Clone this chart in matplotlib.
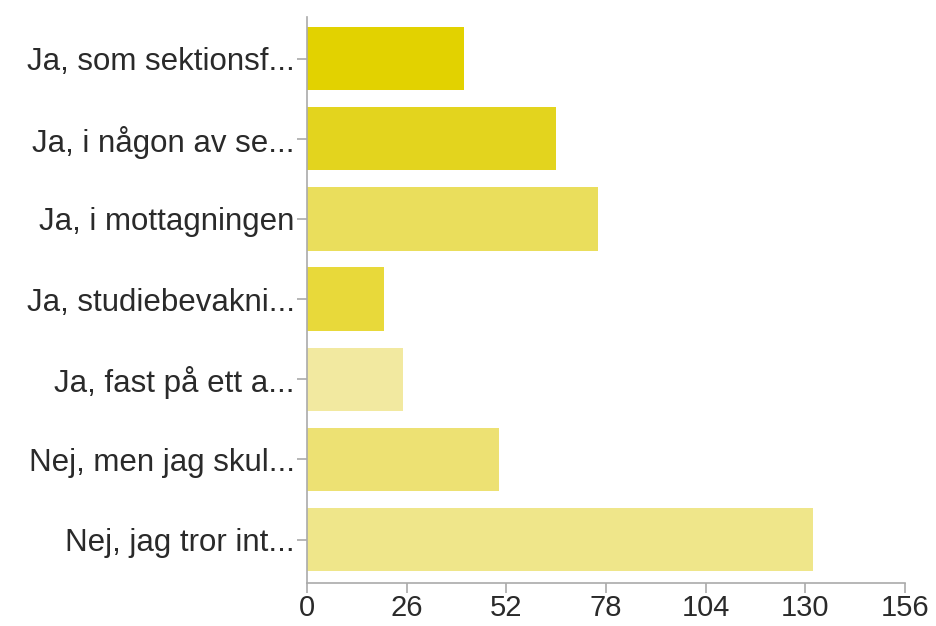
import matplotlib.pyplot as plt

plt.rcParams['font.family'] = ['Liberation Sans', 'DejaVu Sans']

labels = ["Ja, som sektionsf...", "Ja, i någon av se...", "Ja, i mottagningen",
          "Ja, studiebevakni...", "Ja, fast på ett a...", "Nej, men jag skul...",
          "Nej, jag tror int..."]
values = [41, 65, 76, 20, 25, 50, 132]
colors = ["#e2d200", "#e3d41e", "#eade5c", "#e8d93a", "#f2e9a0", "#ede173", "#efe68a"]
xticks = [0, 26, 52, 78, 104, 130, 156]

fig = plt.figure(figsize=(9.36, 6.26), dpi=100)
ax = fig.add_axes([0.328, 0.069, 0.639, 0.904])

ax.barh(range(len(values)), values, height=0.79, color=colors)

ax.set_xlim(0, 156)
ax.set_ylim(6.54, -0.52)
ax.set_xticks(xticks)
ax.set_yticks(range(len(labels)))
ax.set_yticklabels(labels)

for s in ['top', 'right']:
    ax.spines[s].set_visible(False)
for s in ['left', 'bottom']:
    ax.spines[s].set_color('#aaaaaa')
    ax.spines[s].set_linewidth(1.2)

ax.tick_params(axis='both', colors='#aaaaaa', labelcolor='#2a2a2a',
               length=7, width=1.2)
ax.tick_params(axis='y', pad=2, labelsize=22.5)
ax.tick_params(axis='x', pad=1, labelsize=21)

fig.savefig('out.png', dpi=100)
